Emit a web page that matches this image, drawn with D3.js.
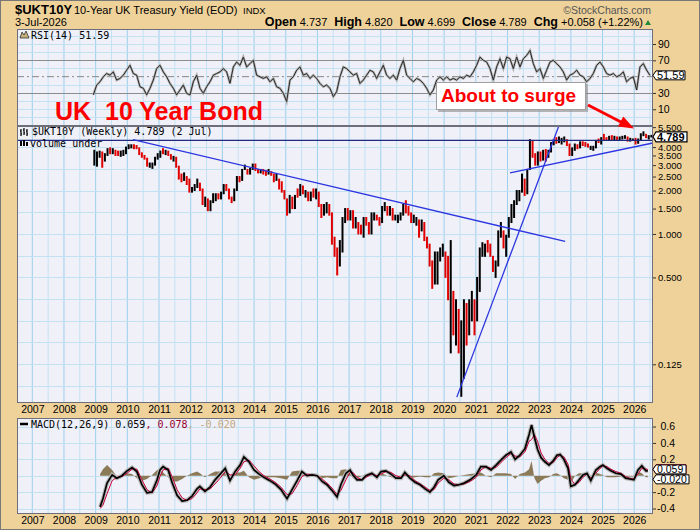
<!DOCTYPE html>
<html>
<head>
<meta charset="utf-8">
<script src="https://cdn.jsdelivr.net/npm/d3@7"></script>
<style>
  body { margin: 0; background: #fff; }
  svg text { font-family: "Liberation Sans", Arial, sans-serif; }
  .mono { font-family: "DejaVu Sans Mono", monospace !important; }
</style>
</head>
<body>
<svg id="chart" width="700" height="530"></svg>
<script>
// weekly $UKT10Y, kept as monthly low / high / close (first bar = Dec 2008)
const barStart = 2008.958;
const barLow = [
  3.0,
  2.95,3.4,2.9,3.2,3.5,3.6,3.6,3.5,3.5,3.45,3.5,3.6,
  3.9,3.95,3.9,3.9,3.55,3.4,3.3,2.95,2.9,2.85,3.0,3.3,
  3.4,3.6,3.55,3.5,3.3,3.2,2.9,2.4,2.3,2.35,2.2,1.95,
  1.95,2.0,2.1,2.0,1.6,1.55,1.45,1.45,1.65,1.7,1.75,1.75,
  1.9,2.0,1.75,1.65,1.7,2.0,2.3,2.35,2.8,2.6,2.6,2.8,
  2.75,2.65,2.65,2.6,2.55,2.6,2.55,2.3,2.35,2.05,1.95,1.75,
  1.35,1.4,1.5,1.5,1.8,1.85,1.9,1.8,1.7,1.7,1.8,1.75,
  1.55,1.3,1.35,1.4,1.35,0.85,0.7,0.52,0.6,0.75,1.2,1.25,
  1.25,1.1,1.1,1.0,1.0,0.95,1.15,1.0,1.0,1.25,1.25,1.15,
  1.2,1.45,1.35,1.35,1.25,1.25,1.2,1.25,1.35,1.4,1.35,1.2,
  1.2,1.15,0.95,1.05,0.9,0.8,0.6,0.42,0.45,0.45,0.65,0.7,
  0.5,0.35,0.15,0.2,0.17,0.15,0.075,0.1,0.17,0.2,0.25,0.2,
  0.25,0.4,0.7,0.7,0.75,0.7,0.55,0.5,0.6,0.95,0.8,0.7,
  0.95,1.2,1.3,1.6,1.7,1.95,1.85,1.9,2.8,3.4,3.0,3.0,
  3.2,3.25,3.2,3.4,3.7,4.15,4.25,4.3,4.2,4.35,4.1,3.5,
  3.5,3.8,3.9,3.95,4.1,4.05,4.0,3.85,3.8,3.95,4.3,4.2,
  4.5,4.45,4.45,4.45,4.5,4.45,4.5,4.55,4.6,4.4,4.4,4.45,
  4.2,4.25,4.5,4.8,4.65,4.55,4.7
];
const barHigh = [
  3.8,
  3.7,3.75,3.7,3.6,3.9,3.95,3.9,3.8,3.75,3.75,3.8,4.0,
  4.15,4.15,4.15,4.1,3.95,3.65,3.5,3.35,3.1,3.1,3.4,3.6,
  3.75,3.9,3.8,3.75,3.55,3.45,3.4,2.95,2.6,2.65,2.5,2.4,
  2.1,2.2,2.4,2.25,2.05,1.8,1.75,1.7,1.9,1.9,1.9,1.95,
  2.2,2.2,2.05,1.8,2.05,2.5,2.5,2.8,3.0,2.8,2.85,3.05,
  3.05,2.8,2.8,2.8,2.75,2.8,2.7,2.6,2.6,2.4,2.3,2.0,
  1.75,1.85,1.8,1.85,2.05,2.2,2.15,2.0,1.95,1.95,2.05,2.05,
  1.95,1.6,1.6,1.65,1.6,1.4,0.95,0.8,0.9,1.3,1.5,1.5,
  1.45,1.45,1.3,1.2,1.15,1.3,1.3,1.2,1.4,1.4,1.35,1.3,
  1.55,1.65,1.55,1.55,1.5,1.35,1.35,1.4,1.6,1.7,1.55,1.4,
  1.35,1.3,1.25,1.25,1.2,0.95,0.85,0.65,0.75,0.75,0.8,0.85,
  0.75,0.7,0.9,0.4,0.35,0.3,0.25,0.35,0.33,0.35,0.4,0.35,
  0.5,0.8,0.87,0.85,0.9,0.85,0.7,0.65,1.05,1.2,1.05,0.98,
  1.3,1.6,1.7,2.0,2.0,2.6,2.4,2.8,4.5,4.4,3.6,3.7,
  3.7,3.8,3.85,3.8,4.3,4.5,4.65,4.7,4.6,4.7,4.5,4.2,
  3.95,4.2,4.15,4.35,4.35,4.3,4.2,4.05,4.05,4.45,4.55,4.65,
  4.9,4.65,4.75,4.8,4.75,4.7,4.7,4.75,4.8,4.7,4.6,4.55,
  4.6,4.55,4.95,5.1,4.9,4.8,4.82
];
const barClose = [
  3.0,
  3.6,3.6,3.2,3.5,3.75,3.7,3.8,3.6,3.55,3.6,3.65,4.0,
  4.0,4.05,3.95,3.9,3.6,3.4,3.35,2.95,2.95,3.05,3.25,3.4,
  3.7,3.65,3.7,3.5,3.35,3.35,2.95,2.55,2.45,2.55,2.3,2.0,
  2.0,2.15,2.2,2.1,1.6,1.75,1.5,1.55,1.75,1.85,1.8,1.85,
  2.1,2.0,1.8,1.7,2.0,2.45,2.35,2.75,2.75,2.7,2.8,3.0,
  2.75,2.7,2.75,2.65,2.6,2.65,2.6,2.35,2.4,2.25,1.95,1.75,
  1.35,1.8,1.55,1.85,1.8,2.0,1.95,1.95,1.75,1.9,1.85,1.95,
  1.55,1.35,1.4,1.6,1.45,0.9,0.7,0.65,0.75,1.25,1.4,1.25,
  1.4,1.15,1.15,1.1,1.05,1.25,1.2,1.05,1.35,1.35,1.3,1.2,
  1.5,1.5,1.35,1.45,1.25,1.3,1.35,1.4,1.55,1.45,1.4,1.25,
  1.25,1.25,1.0,1.2,0.9,0.85,0.6,0.45,0.5,0.7,0.7,0.8,
  0.55,0.45,0.5,0.3,0.32,0.2,0.22,0.3,0.2,0.3,0.32,0.25,
  0.35,0.8,0.8,0.85,0.8,0.72,0.57,0.6,1.0,1.05,0.8,0.97,
  1.3,1.4,1.6,1.9,1.95,2.25,1.9,2.8,4.1,3.5,3.15,3.65,
  3.35,3.8,3.5,3.7,4.2,4.4,4.3,4.35,4.45,4.5,4.2,3.55,
  3.8,4.1,3.95,4.35,4.3,4.2,4.0,4.0,4.0,4.45,4.25,4.6,
  4.55,4.5,4.7,4.5,4.65,4.5,4.55,4.7,4.7,4.45,4.45,4.5,
  4.3,4.45,4.85,4.95,4.7,4.74,4.789
];

// RSI(14), one reading every ~5.5 weeks
const rsiStart = 2008.926, rsiStep = 0.10522;
const rsiVals = [
  27.6,39.7,43.7,49.8,53.8,51.8,55.8,45.8,47.8,51.8,
  57.9,63.9,53.8,51.8,37.6,35.7,27.6,35.7,45.8,59.9,
  63.9,55.8,49.8,41.7,35.7,27.6,33.6,39.7,29.6,27.6,
  43.7,51.8,35.7,29.6,37.6,43.7,51.8,53.8,55.8,59.9,
  55.8,41.7,61.9,67.9,63.9,74.0,61.9,65.9,70,51.8,
  49.8,47.8,49.8,43.7,47.8,37.6,35.7,29.6,19.5,45.8,
  49.8,57.9,61.9,51.8,53.8,47.8,51.8,47.8,41.7,37.6,
  39.7,35.7,25.5,31.6,49.8,61.9,59.9,55.8,
  51.8,53.8,41.7,45.8,51.8,57.9,55.8,47.8,55.8,63.9,
  51.8,47.8,51.8,45.8,59.9,70,51.8,47.8,43.7,47.8,
  45.8,41.7,35.7,27.6,33.6,45.8,49.8,45.8,49.8,45.8,
  47.8,45.8,49.8,47.8,51.8,49.8,55.8,63.9,74,70,
  67.9,59.9,45.8,61.9,72,59.9,74,72,59.9,74,
  61.9,72,76,82.1,66,55.8,59.9,47.8,57.9,67.9,
  70,66,61.9,55.8,45.8,51.8,53.8,57.9,51.8,49.8,
  43.7,47.8,53.8,63.9,67.9,61.9,53.8,51.8,53.8,49.8,
  51.8,55.8,43.7,47.8,49.8,33.6,61.9,66,57.9,51.59
];

// MACD(12,26,9): [year, macd, signal]
const macdPts = [
  [2009.14,-0.38,-0.40],[2009.23,-0.28,-0.36],[2009.36,-0.09,-0.22],[2009.52,0.01,-0.06],
  [2009.67,-0.03,-0.02],[2009.83,0.0,-0.01],[2009.99,0.06,0.03],[2010.15,0.10,0.08],
  [2010.30,0.05,0.08],[2010.46,-0.11,-0.05],[2010.62,-0.21,-0.17],[2010.78,-0.20,-0.21],
  [2010.94,-0.05,-0.12],[2011.03,0.07,-0.01],[2011.13,0.11,0.07],[2011.29,0.07,0.09],
  [2011.41,-0.08,-0.01],[2011.57,-0.24,-0.17],[2011.73,-0.31,-0.27],[2011.88,-0.30,-0.30],
  [2012.04,-0.25,-0.28],[2012.20,-0.16,-0.21],[2012.29,-0.13,-0.16],[2012.45,-0.19,-0.17],
  [2012.61,-0.14,-0.16],[2012.77,-0.05,-0.10],[2012.93,0.02,-0.03],[2013.09,0.09,0.05],
  [2013.24,-0.06,0.01],[2013.40,0.05,0.01],[2013.56,0.13,0.09],[2013.68,0.23,0.17],
  [2013.84,0.17,0.19],[2014.00,0.07,0.12],[2014.16,0.02,0.05],[2014.31,-0.02,0.0],
  [2014.50,-0.06,-0.04],[2014.66,-0.10,-0.08],[2014.85,-0.17,-0.14],[2015.04,-0.28,-0.23],
  [2015.20,-0.17,-0.22],[2015.36,-0.06,-0.12],[2015.51,0.05,-0.01],[2015.67,0.0,0.02],
  [2015.83,0.01,0.01],[2015.99,0.0,0.0],[2016.15,-0.07,-0.04],[2016.30,-0.11,-0.09],
  [2016.46,-0.18,-0.15],[2016.62,-0.26,-0.23],[2016.74,-0.11,-0.18],[2016.90,0.03,-0.05],
  [2017.03,0.07,0.04],[2017.12,0.01,0.04],[2017.25,-0.05,-0.02],[2017.41,-0.05,-0.05],
  [2017.53,0.0,-0.02],[2017.72,0.03,0.02],[2017.88,-0.02,0.0],[2018.01,0.05,0.02],
  [2018.16,0.06,0.05],[2018.32,0.02,0.04],[2018.48,-0.03,0.0],[2018.64,-0.03,-0.02],
  [2018.76,0.04,0.01],[2018.92,-0.03,0.0],[2019.08,-0.08,-0.06],[2019.24,-0.11,-0.10],
  [2019.40,-0.16,-0.14],[2019.55,-0.20,-0.18],[2019.68,-0.14,-0.17],[2019.81,-0.05,-0.09],
  [2019.99,0.0,-0.03],[2020.15,-0.08,-0.05],[2020.31,-0.12,-0.10],[2020.47,-0.11,-0.11],
  [2020.63,-0.09,-0.10],[2020.82,-0.05,-0.07],[2021.01,0.01,-0.02],[2021.16,0.11,0.07],
  [2021.32,0.11,0.11],[2021.48,0.07,0.09],[2021.64,0.13,0.10],[2021.79,0.19,0.16],
  [2021.95,0.25,0.22],[2022.11,0.29,0.27],[2022.24,0.20,0.24],[2022.39,0.25,0.23],
  [2022.55,0.33,0.29],[2022.68,0.50,0.42],[2022.76,0.62,0.44],[2022.85,0.47,0.50],
  [2022.95,0.32,0.42],[2023.06,0.22,0.28],[2023.18,0.17,0.20],[2023.31,0.13,0.15],
  [2023.44,0.18,0.16],[2023.56,0.25,0.22],[2023.66,0.26,0.25],[2023.78,0.20,0.23],
  [2023.91,0.09,0.14],[2024.00,-0.13,-0.04],[2024.13,-0.11,-0.11],[2024.26,-0.05,-0.08],
  [2024.38,0.01,-0.02],[2024.51,0.03,0.02],[2024.63,-0.06,-0.03],[2024.79,0.07,0.03],
  [2024.92,0.11,0.09],[2025.01,0.13,0.12],[2025.14,0.09,0.11],[2025.26,0.06,0.08],
  [2025.42,0.03,0.05],[2025.58,0.02,0.03],[2025.73,-0.03,-0.01],[2025.86,-0.04,-0.03],
  [2025.99,-0.05,-0.04],[2026.12,0.07,0.02],[2026.24,0.12,0.09],[2026.37,0.06,0.08],
  [2026.43,0.059,0.078]
];

// drawn trend lines [year, yield]
const trendDown = [[2010.18, 4.50], [2023.82, 0.887]];
const trendUp = [[2020.40, 0.074], [2023.66, 5.91]];
const trendBase = [[2022.08, 2.65], [2026.59, 4.27]];
const resistance = 4.45;

const years = [2007,2008,2009,2010,2011,2012,2013,2014,2015,2016,2017,2018,2019,2020,2021,2022,2023,2024,2025,2026];
const priceTicks = [5.5, 4, 3.5, 3, 2.5, 2, 1.5, 1, 0.5, 0.125];
const priceGrid = [0.088, 0.125, 0.177, 0.25, 0.354, 0.5, 0.707, 1, 1.414, 2, 2.828, 4];
const rsiTicks = [90, 70, 30, 10];
const rsiGrid = [0, 10, 20, 40, 60, 80, 90, 100];
const macdTicks = [0.6, 0.4, 0.2, -0.2, -0.4];
const macdGrid = [0.6, 0.4, 0.2, 0, -0.2, -0.4];

const W = 700, H = 530;
const L = 17, R = 653;
const rsiTop = 29, rsiBot = 126, mainTop = 126, mainBot = 403, macdTop = 418, macdBot = 514;
const TAN = "#efd29a", PANEL = "#f0f0f8", GRID = "#c2e2f3", GRID_YEAR = "#9ccfec";
const AXIS_FONT = 10.5;

const x = d3.scaleLinear().domain([2006.517, 2026.593]).range([L, R]);
const yR = d3.scaleLinear().domain([-10.5, 108.4]).range([rsiBot, rsiTop]);
const yP = d3.scaleLog().domain([0.0674, 5.60]).range([mainBot, mainTop]);
const yM = d3.scaleLinear().domain([-0.467, 0.704]).range([macdBot, macdTop]);

const svg = d3.select("#chart");

svg.append("rect")
  .attr("x", 0.5).attr("y", 0.5)
  .attr("width", W - 1).attr("height", H - 1)
  .attr("fill", TAN).attr("stroke", "#777");

const halfYears = d3.range(2006.5, 2026.6, 0.5);

function panel(top, bot, id) {
  svg.append("rect")
    .attr("x", L).attr("y", top)
    .attr("width", R - L).attr("height", bot - top)
    .attr("fill", PANEL);
  svg.append("clipPath").attr("id", id)
    .append("rect")
    .attr("x", L).attr("y", top)
    .attr("width", R - L).attr("height", bot - top);
  const g = svg.append("g").attr("clip-path", `url(#${id})`);
  g.selectAll("line.vg")
    .data(halfYears)
    .join("line")
    .attr("x1", d => x(d)).attr("x2", d => x(d))
    .attr("y1", top).attr("y2", bot)
    .attr("stroke", d => Number.isInteger(d) ? GRID_YEAR : GRID);
  return g;
}

function hgrid(g, vals, scale, color) {
  g.selectAll(null)
    .data(vals)
    .join("line")
    .attr("x1", L).attr("x2", R)
    .attr("y1", d => Math.round(scale(d)) + 0.5)
    .attr("y2", d => Math.round(scale(d)) + 0.5)
    .attr("stroke", color || GRID);
}

// ---- RSI panel
const gR = panel(rsiTop, rsiBot, "clipR");
hgrid(gR, rsiGrid, yR);
hgrid(gR, [70, 30], yR, "#8c8c8c");
gR.append("line")
  .attr("x1", L).attr("x2", R)
  .attr("y1", yR(50)).attr("y2", yR(50))
  .attr("stroke", "#888").attr("stroke-dasharray", "7,3,2,3");

const rsiLine = d3.line()
  .x((d, i) => x(rsiStart + i * rsiStep))
  .y(d => yR(d));
gR.append("path").datum(rsiVals)
  .attr("d", rsiLine).attr("fill", "none")
  .attr("stroke", "#b0b0b0").attr("stroke-width", 2.4);
gR.append("path").datum(rsiVals)
  .attr("d", rsiLine).attr("fill", "none")
  .attr("stroke", "#2a2a2a").attr("stroke-width", 1);

// ---- price panel
const gP = panel(mainTop, mainBot, "clipP");
hgrid(gP, priceGrid, yP);

const bars = barClose.map((c, i) => ({
  t: barStart + i / 12,
  lo: barLow[i],
  hi: barHigh[i],
  down: i > 0 && c < barClose[i - 1]
}));

gP.selectAll("line.bar")
  .data(bars)
  .join("line")
  .attr("class", "bar")
  .attr("x1", d => x(d.t)).attr("x2", d => x(d.t))
  .attr("y1", d => yP(d.lo) + 0.5).attr("y2", d => yP(d.hi) - 0.5)
  .attr("stroke", d => d.down ? "#e00000" : "#000")
  .attr("stroke-width", 2);

gP.append("line")
  .attr("x1", L).attr("x2", R)
  .attr("y1", yP(resistance)).attr("y2", yP(resistance))
  .attr("stroke", "#1c2a80").attr("stroke-width", 1.3);

[trendDown, trendUp, trendBase].forEach(tl => {
  gP.append("line")
    .attr("x1", x(tl[0][0])).attr("y1", yP(tl[0][1]))
    .attr("x2", x(tl[1][0])).attr("y2", yP(tl[1][1]))
    .attr("stroke", "#2b35e0").attr("stroke-width", 1.3);
});

// ---- MACD panel
const gM = panel(macdTop, macdBot, "clipM");
hgrid(gM, macdGrid, yM);

const hist = d3.area()
  .x(d => x(d[0]))
  .y0(yM(0))
  .y1(d => yM(d[1] - d[2]));
gM.append("path").datum(macdPts)
  .attr("d", hist).attr("fill", "#8a7a58");

const macdLine = d3.line().x(d => x(d[0])).y(d => yM(d[1]));
const sigLine = d3.line().x(d => x(d[0])).y(d => yM(d[2]));
gM.append("path").datum(macdPts)
  .attr("d", macdLine).attr("fill", "none")
  .attr("stroke", "#b8b8b8").attr("stroke-width", 4);
gM.append("path").datum(macdPts)
  .attr("d", sigLine).attr("fill", "none")
  .attr("stroke", "#c8003c").attr("stroke-width", 1);
gM.append("path").datum(macdPts)
  .attr("d", macdLine).attr("fill", "none")
  .attr("stroke", "#000").attr("stroke-width", 1.7);

// panel borders
[[rsiTop, rsiBot], [mainTop, mainBot], [macdTop, macdBot]].forEach(([t, b]) => {
  svg.append("rect")
    .attr("x", L + 0.5).attr("y", t + 0.5)
    .attr("width", R - L - 1).attr("height", b - t - 1)
    .attr("fill", "none").attr("stroke", "#6e6e7a");
});

// ---- right axes
function rightAxis(scale, ticks, fmt, opts = {}) {
  const g = svg.append("g")
    .attr("transform", `translate(${R},0)`)
    .call(d3.axisRight(scale).tickValues(ticks).tickFormat(fmt).tickSize(3).tickPadding(2));
  g.select(".domain").remove();
  g.selectAll("text")
    .attr("font-size", opts.fs || AXIS_FONT).attr("fill", "#000")
    .attr("font-family", "Liberation Sans, Arial, sans-serif");
  if (opts.end) g.selectAll("text").attr("text-anchor", "end").attr("x", 22);
  g.selectAll("line").attr("stroke", "#333");
  return g;
}
rightAxis(yR, rsiTicks, d => d);
// log spacing packs 4.000 / 3.500 / 3.000 tightly, so these labels run a bit smaller
rightAxis(yP, priceTicks, d => d.toFixed(3), { fs: 9.5 });
rightAxis(yM, macdTicks, d => d.toFixed(1), { end: true });

// ---- year axes
function yearAxis(y) {
  const g = svg.append("g")
    .attr("transform", `translate(0,${y})`)
    .call(d3.axisBottom(x).tickValues(years).tickFormat(d3.format("d")).tickSize(0).tickPadding(3));
  g.select(".domain").remove();
  g.selectAll("text")
    .attr("font-size", AXIS_FONT).attr("fill", "#000")
    .attr("font-family", "Liberation Sans, Arial, sans-serif");
}
yearAxis(mainBot);
yearAxis(macdBot);

// ---- header
svg.append("text").attr("x", 15).attr("y", 14)
  .attr("font-size", 13).attr("font-weight", "bold").text("$UKT10Y");
svg.append("text").attr("x", 74).attr("y", 14)
  .attr("font-size", 11).text("10-Year UK Treasury Yield (EOD)");
svg.append("text").attr("x", 243).attr("y", 14)
  .attr("font-size", 9.5).text("INDX");
svg.append("text").attr("x", 651).attr("y", 14)
  .attr("font-size", 10.5).attr("fill", "#555").attr("text-anchor", "end")
  .text("\u00a9StockCharts.com");
svg.append("text").attr("x", 15).attr("y", 26)
  .attr("font-size", 11).text("3-Jul-2026");

const quote = [["Open", "4.737"], ["High", "4.820"], ["Low", "4.699"], ["Close", "4.789"], ["Chg", "+0.058 (+1.22%)"]];
const qt = svg.append("text").attr("x", 643).attr("y", 26).attr("text-anchor", "end");
quote.forEach(([k, v], i) => {
  qt.append("tspan").attr("font-size", 12.5).attr("font-weight", "bold")
    .text((i ? "\u00a0\u00a0" : "") + k);
  qt.append("tspan").attr("font-size", 11).text("\u00a0" + v);
});
svg.append("path").attr("d", "M645,25 L651,25 L648,20 Z").attr("fill", "#1f8a3a");

// ---- panel legends
svg.append("path")
  .attr("d", "M20,38 L22,32 L24,35 L26,31 L29,38 Z")
  .attr("fill", "#c8b07a").attr("stroke", "#333").attr("stroke-width", 0.8);
svg.append("text").attr("class", "mono").attr("x", 31).attr("y", 38.5)
  .attr("font-size", 10).text("RSI(14) 51.59");

svg.append("path")
  .attr("d", "M21,129 V136 M20,131 H21 M21,134 H22 M24,128 V135 M23,130 H24 M24,133 H25 M27,129 V136 M26,131 H27 M27,134 H28")
  .attr("stroke", "#000").attr("stroke-width", 1.2).attr("fill", "none");
svg.append("text").attr("class", "mono").attr("x", 32).attr("y", 135)
  .attr("font-size", 10).text("$UKT10Y (Weekly) 4.789 (2 Jul)");
svg.append("path")
  .attr("d", "M20,146 V141 H22 V146 Z M23,146 V140 H25 V146 Z M26,146 V142 H28 V146 Z")
  .attr("fill", "#000");
svg.append("text").attr("class", "mono").attr("x", 30).attr("y", 146.5)
  .attr("font-size", 10).text("volume under");

svg.append("line").attr("x1", 20).attr("x2", 28).attr("y1", 424).attr("y2", 424)
  .attr("stroke", "#000").attr("stroke-width", 2.5);
const ml = svg.append("text").attr("class", "mono").attr("x", 31).attr("y", 427.5).attr("font-size", 10);
ml.append("tspan").attr("fill", "#000").text("MACD(12,26,9) 0.059");
ml.append("tspan").attr("fill", "#99002e").text(", 0.078");
ml.append("tspan").attr("fill", "#c4a77a").text(", -0.020");

// ---- annotations
svg.append("text").attr("x", 55).attr("y", 120)
  .attr("font-size", 25).attr("font-weight", "bold").attr("fill", "#f00")
  .text("UK\u00a0\u00a010 Year Bond");

svg.append("rect").attr("x", 438).attr("y", 84).attr("width", 150).attr("height", 28)
  .attr("fill", "#8a8a8a").attr("opacity", 0.6);
svg.append("rect").attr("x", 436.5).attr("y", 82.5).attr("width", 149).attr("height", 27)
  .attr("fill", "#fff").attr("stroke", "#a0a0a0");
svg.append("text").attr("x", 441).attr("y", 102)
  .attr("font-size", 19).attr("font-weight", "bold").attr("fill", "#f00")
  .text("About to surge");

svg.append("line").attr("x1", 588).attr("y1", 105).attr("x2", 621).attr("y2", 122)
  .attr("stroke", "#f00").attr("stroke-width", 3);
svg.append("path").attr("d", "M634,128.5 L618,126.6 L623.3,116.6 Z").attr("fill", "#f00");

// ---- value badges
function badge(y, label, opts = {}) {
  const x0 = R, h = opts.h || 10, w = opts.w || 30;
  const p = `M${x0},${y} L${x0 + 3},${y - h / 2} L${x0 + 3 + w},${y - h / 2} L${x0 + 3 + w},${y + h / 2} L${x0 + 3},${y + h / 2} Z`;
  svg.append("path").attr("d", p)
    .attr("fill", "#fff").attr("stroke", opts.stroke || "#000").attr("stroke-width", opts.sw || 1);
  if (label) {
    svg.append("text").attr("x", x0 + 4).attr("y", y + 4)
      .attr("font-size", opts.fs || 11).attr("font-weight", opts.bold ? "bold" : null)
      .text(label);
  }
}
badge(yR(51.59), "51.59", { w: 29, h: 9 });
badge(yP(4.789) + 1, "4.789", { w: 31, bold: true, sw: 1.2 });
// signal badge sits fully behind the macd badge; only its red edge shows
badge(yM(0.078), null, { w: 30, stroke: "#c8003c", h: 9 });
badge(yM(-0.020) + 2, "-0.020", { w: 33, h: 9, fs: 10.5 });
badge(yM(0.059) - 1.5, "0.059", { w: 30, h: 9, fs: 10.5 });
</script>
</body>
</html>
